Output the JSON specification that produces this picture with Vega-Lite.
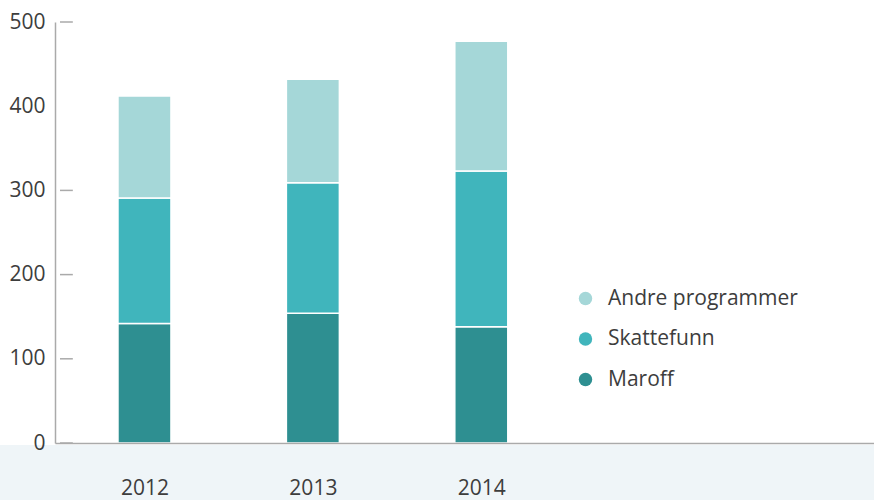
{
  "$schema": "https://vega.github.io/schema/vega-lite/v6.json",
  "autosize": {"type": "none"},
  "width": 819,
  "height": 421,
  "padding": {"left": 55, "top": 22, "right": 0, "bottom": 57},
  "background": "white",
  "config": {
    "view": {"stroke": null},
    "font": "Open Sans",
    "axis": {"labelFont": "Open Sans", "labelColor": "#3d3d3d", "labelFontSize": 21, "grid": false, "title": null}
  },
  "datasets": {
    "bars": [
      {"year": 2012, "type": "Maroff", "value": 142},
      {"year": 2012, "type": "Skattefunn", "value": 149},
      {"year": 2012, "type": "Andre programmer", "value": 121},
      {"year": 2013, "type": "Maroff", "value": 154},
      {"year": 2013, "type": "Skattefunn", "value": 155},
      {"year": 2013, "type": "Andre programmer", "value": 123},
      {"year": 2014, "type": "Maroff", "value": 138},
      {"year": 2014, "type": "Skattefunn", "value": 185},
      {"year": 2014, "type": "Andre programmer", "value": 154}
    ],
    "band": [{"x1": 2011.14, "x2": 2016.36, "y1": -2.4, "y2": -70}],
    "ticks": [
      {"x1": 2011.4985, "x2": 2011.5747, "y": 0},
      {"x1": 2011.4985, "x2": 2011.5747, "y": 100},
      {"x1": 2011.4985, "x2": 2011.5747, "y": 200},
      {"x1": 2011.4985, "x2": 2011.5747, "y": 300},
      {"x1": 2011.4985, "x2": 2011.5747, "y": 500}
    ]
  },
  "layer": [
    {
      "data": {"name": "band"},
      "mark": {"type": "rect", "color": "#eff5f8", "clip": false},
      "encoding": {
        "x": {"field": "x1", "type": "quantitative", "scale": {"domain": [2011.4985, 2016.302], "nice": false, "zero": false}},
        "x2": {"field": "x2"},
        "y": {"field": "y1", "type": "quantitative", "scale": {"domain": [0, 500], "nice": false}},
        "y2": {"field": "y2"}
      }
    },
    {
      "data": {"name": "bars"},
      "transform": [
        {"calculate": "indexof(['Maroff','Skattefunn','Andre programmer'], datum.type)", "as": "ord"}
      ],
      "mark": {"type": "bar", "width": 53, "stroke": "white", "strokeWidth": 1.5},
      "encoding": {
        "x": {
          "field": "year", "type": "quantitative",
          "scale": {"domain": [2011.4985, 2016.302], "nice": false, "zero": false},
          "axis": {
            "values": [2012, 2013, 2014], "format": "d", "ticks": false,
            "domainColor": "#aaaaaa", "domainWidth": 1.5, "labelPadding": 34, "zindex": 1
          }
        },
        "y": {
          "field": "value", "type": "quantitative", "stack": "zero",
          "scale": {"domain": [0, 500], "nice": false},
          "axis": {
            "values": [0, 100, 200, 300, 400, 500],
            "ticks": false,
            "domainColor": "#aaaaaa", "domainWidth": 1.5, "labelPadding": 10, "zindex": 1
          }
        },
        "order": {"field": "ord"},
        "color": {
          "field": "type", "type": "nominal",
          "scale": {"domain": ["Andre programmer", "Skattefunn", "Maroff"], "range": ["#a5d7d8", "#40b5bc", "#2e8f91"]},
          "legend": {
            "title": null, "orient": "none", "legendX": 520, "legendY": 266,
            "symbolType": "circle", "symbolSize": 180, "symbolStrokeWidth": 0,
            "labelFont": "Open Sans", "labelFontSize": 21, "labelColor": "#3d3d3d",
            "labelOffset": 12, "rowPadding": 18.5, "labelLimit": 400
          }
        }
      }
    },
    {
      "data": {"name": "ticks"},
      "mark": {"type": "rule", "color": "#aaaaaa", "strokeWidth": 1.5},
      "encoding": {
        "x": {"field": "x1", "type": "quantitative"},
        "x2": {"field": "x2"},
        "y": {"field": "y", "type": "quantitative"}
      }
    }
  ]
}
